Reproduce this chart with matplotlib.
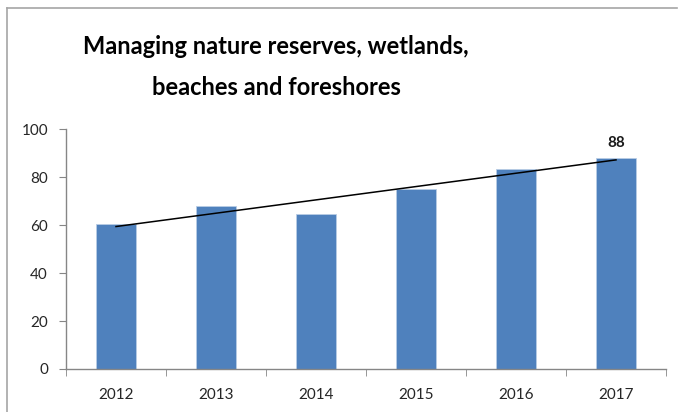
import numpy as np
import matplotlib.pyplot as plt
from matplotlib.lines import Line2D

years = ['2012', '2013', '2014', '2015', '2016', '2017']
values = [60.6, 68.0, 64.5, 75.3, 83.6, 88.0]
title = 'Managing nature reserves, wetlands,\nbeaches and foreshores'

W, H = 679, 412
fig = plt.figure(figsize=(W / 100, H / 100), dpi=100)
plt.rcParams['font.family'] = ['Lato', 'DejaVu Sans']

# plot area in pixel terms
ax = fig.add_axes([66 / W, 1 - 369 / H, 600 / W, 239.7 / H])

x = np.arange(len(years))
ax.bar(x, values, width=0.4, color='#4F81BD', edgecolor='#b9cde5', linewidth=0.6, zorder=2)

# linear trendline
k, b = np.polyfit(x, values, 1)
ax.plot([x[0], x[-1]], [k * x[0] + b, k * x[-1] + b], color='black', lw=1.1, zorder=3)

# label on last bar
ax.annotate(f'{values[-1]:.0f}', (x[-1], values[-1]), xytext=(0, 6),
            textcoords='offset points', ha='center', va='bottom',
            fontsize=11, fontweight='bold', color='#1a1a1a')

ax.set_xlim(-0.5, len(years) - 0.5)
ax.set_ylim(0, 100)
ax.set_yticks(range(0, 101, 20))
ax.set_xticks(x)
ax.set_xticklabels(years)
ax.set_xticks(np.arange(-0.5, len(years)), minor=True)

for s in ['top', 'right']:
    ax.spines[s].set_visible(False)
for s in ['left', 'bottom']:
    ax.spines[s].set_color('#868686')
    ax.spines[s].set_linewidth(1)

ax.tick_params(axis='y', length=5, color='#868686', labelsize=11,
               labelcolor='#262626', pad=8)
ax.tick_params(axis='x', which='major', length=0, labelsize=11,
               labelcolor='#262626', pad=14)
ax.tick_params(axis='x', which='minor', length=5, color='#868686')

fig.text(276 / W, 1 - 67 / H, title, ha='center', va='center',
         fontsize=17, fontweight='bold', linespacing=1.9)

# chart frame (left and top edges visible)
fig.add_artist(Line2D([7 / W, 7 / W], [0, 1 - 8 / H], color='#a6a6a6', lw=1.2))
fig.add_artist(Line2D([7 / W, 677 / W], [1 - 8 / H, 1 - 8 / H], color='#a6a6a6', lw=1.2))

fig.savefig('out.png', dpi=100)
